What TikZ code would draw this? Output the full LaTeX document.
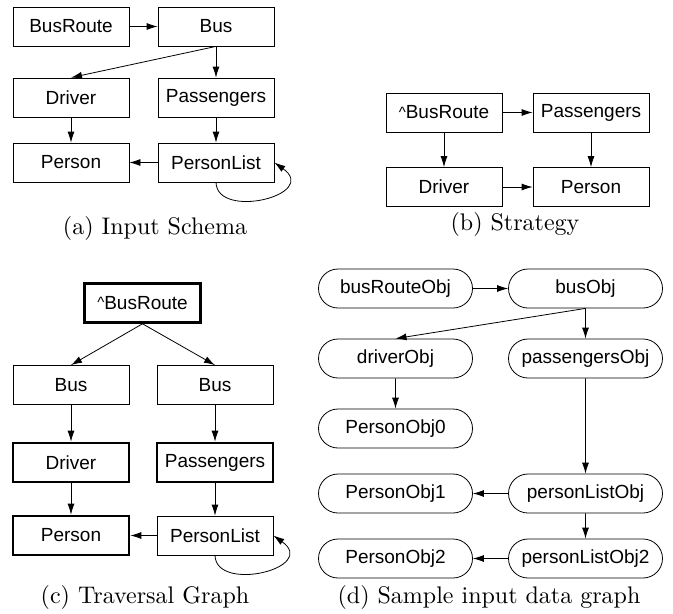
\documentclass[tikz,border=0pt]{standalone}
\usepackage{fontspec}
\newfontfamily\labelfont{Liberation Sans}
\usetikzlibrary{arrows.meta,shapes.misc}
\newcommand\caret{{\fontsize{15}{15}\selectfont\raisebox{1.5pt}{\textasciicircum}}}
\begin{document}
\begin{tikzpicture}[x=1pt,y=-1pt,
  box/.style={draw,line width=0.8pt,minimum width=116pt,minimum height=39pt,inner sep=0pt,
    font=\labelfont\fontsize{19}{22}\selectfont},
  thickbox/.style={box,line width=2.6pt},
  objbox/.style={box,rounded rectangle,minimum width=154pt},
  arr/.style={-{Latex[length=11pt,width=7pt]},line width=0.8pt},
  caption/.style={anchor=base,inner sep=0pt,font=\fontsize{10}{12}\selectfont}]
\useasboundingbox (0,0) rectangle (673,614);
% (a)
\path (71,26.5) node[box] (route) {BusRoute};
\path (216,26.5) node[box] (bus) {Bus};
\path (71,97.5) node[box] (driver) {Driver};
\path (216,97.5) node[box] (pass) {Passengers};
\path (71,162.5) node[box] (person) {Person};
\path (216,162.5) node[box] (plist) {PersonList};
\draw[arr] (route) -- (bus);
\draw[arr] (bus.south) -- (driver.north);
\draw[arr] (bus) -- (pass);
\draw[arr] (driver) -- (person);
\draw[arr] (pass) -- (plist);
\draw[arr] (plist) -- (person);
\draw[arr] (plist.south) .. controls (217,220) and (320,195) .. (plist.east);
\path (155,234) node[caption] (capA) {\scalebox{2.4}{(a) Input Schema}};
% (b)
\path (444,112.5) node[box] (sroute) {\caret BusRoute};
\path (591,112.5) node[box] (spass) {Passengers};
\path (444,187) node[box] (sdriver) {Driver};
\path (591,187) node[box] (sperson) {Person};
\draw[arr] (sroute) -- (spass);
\draw[arr] (sroute) -- (sdriver);
\draw[arr] (spass) -- (sperson);
\draw[arr] (sdriver) -- (sperson);
\path (515,230) node[caption] (capB) {\scalebox{2.4}{(b) Strategy}};
% (c)
\path (142.5,303) node[thickbox] (troute) {\caret BusRoute};
\path (71,385) node[box] (tbusA) {Bus};
\path (215,385) node[box] (tbusB) {Bus};
\path (71,462.5) node[thickbox] (tdriver) {Driver};
\path (215,462.5) node[thickbox] (tpass) {Passengers};
\path (71,535.5) node[thickbox] (tperson) {Person};
\path (215,535.5) node[box] (tplist) {PersonList};
\draw[arr] (troute.south) -- (tbusA.north);
\draw[arr] (troute.south) -- (tbusB.north);
\draw[arr] (tbusA) -- (tdriver);
\draw[arr] (tbusB) -- (tpass);
\draw[arr] (tdriver) -- (tperson);
\draw[arr] (tpass) -- (tplist);
\draw[arr] (tplist) -- (tperson);
\draw[arr] (tplist.south) .. controls (216,593) and (319,568) .. (tplist.east);
\path (145,603) node[caption] (capC) {\scalebox{2.4}{(c) Traversal Graph}};
% (d)
\path (395.5,288.5) node[objbox] (oroute) {busRouteObj};
\path (585.5,288.5) node[objbox] (obus) {busObj};
\path (395.5,358.5) node[objbox] (odriver) {driverObj};
\path (585.5,358.5) node[objbox] (opass) {passengersObj};
\path (395.5,428.5) node[objbox] (operson0) {PersonObj0};
\path (395.5,493.5) node[objbox] (operson1) {PersonObj1};
\path (585.5,493.5) node[objbox] (olist) {personListObj};
\path (395.5,558.5) node[objbox] (operson2) {PersonObj2};
\path (585.5,558.5) node[objbox] (olist2) {personListObj2};
\draw[arr] (oroute) -- (obus);
\draw[arr] (obus.south) -- (odriver.north);
\draw[arr] (obus) -- (opass);
\draw[arr] (odriver) -- (operson0);
\draw[arr] (opass) -- (olist);
\draw[arr] (olist) -- (operson1);
\draw[arr] (olist) -- (olist2);
\draw[arr] (olist2) -- (operson2);
\path (489,603) node[caption] (capD) {\scalebox{2.4}{(d) Sample input data graph}};
\end{tikzpicture}
\end{document}
